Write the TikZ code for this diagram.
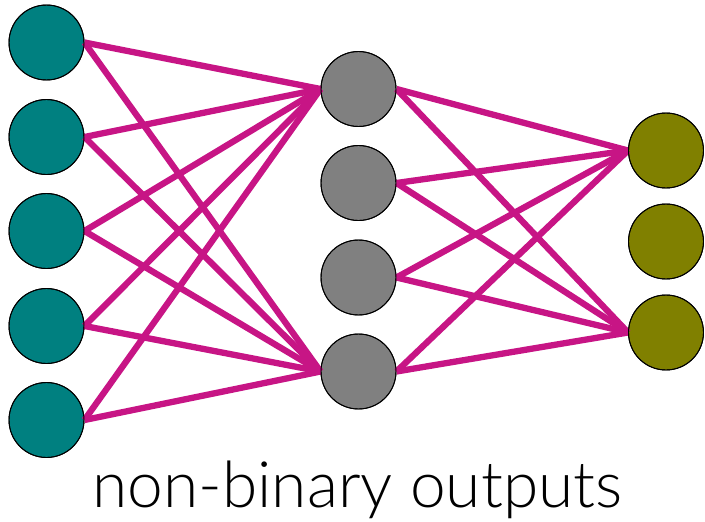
\documentclass[tikz,border=0pt]{standalone}
\usepackage{fontspec}
\newfontfamily\labfont{Lato Light}
\definecolor{tealc}{RGB}{0,128,128}
\definecolor{grayc}{RGB}{128,128,128}
\definecolor{olivec}{RGB}{128,128,0}
\definecolor{edgec}{RGB}{199,21,133}
\begin{document}
\begin{tikzpicture}[x=1pt,y=-1pt,
  neuron/.style={circle,draw=black,line width=0.9pt,minimum size=75pt,inner sep=0pt},
  inp/.style={neuron,fill=tealc},
  hid/.style={neuron,fill=grayc},
  outn/.style={neuron,fill=olivec},
  conn/.style={draw=edgec,line width=6.3pt}]
\useasboundingbox (0,0) rectangle (705,522);
\foreach \i/\y in {1/42.5,2/137,3/231,4/326,5/420}
  \node[inp] (i\i) at (46.5,\y) {};
\foreach \i/\y in {1/89,2/183,3/277.5,4/371.5}
  \node[hid] (h\i) at (358.5,\y) {};
\foreach \i/\y in {1/150.5,2/241.5,3/332.5}
  \node[outn] (o\i) at (666,\y) {};
\foreach \i in {1,...,5} {
  \draw[conn] (i\i.east) -- (h1.west);
  \draw[conn] (i\i.east) -- (h4.west);
}
\foreach \i in {1,...,4} {
  \draw[conn] (h\i.east) -- (o1.west);
  \draw[conn] (h\i.east) -- (o3.west);
}
\foreach \n in {i1,i2,i3,i4,i5,h1,h2,h3,h4,o1,o2,o3}
  \node[neuron,draw=black,fill=none] at (\n) {};
\node[font=\labfont\fontsize{64}{72}\selectfont,anchor=base] (title) at (357.5,507) {non-binary outputs};
\end{tikzpicture}
\end{document}
